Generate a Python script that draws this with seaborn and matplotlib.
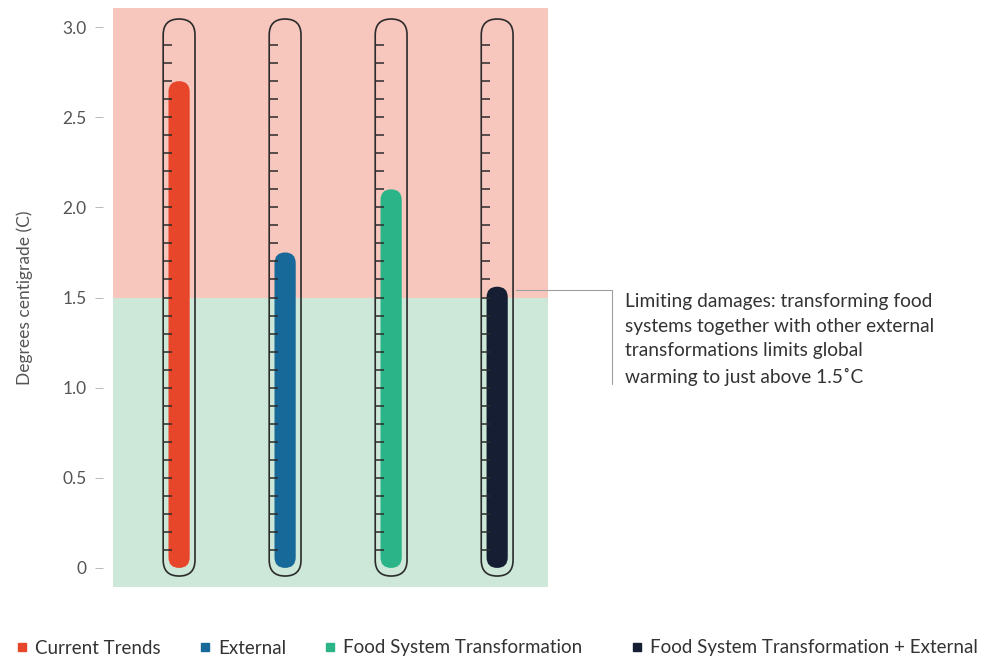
import numpy as np
import matplotlib
matplotlib.use("Agg")
import matplotlib.pyplot as plt
from matplotlib.patches import FancyBboxPatch
from matplotlib.lines import Line2D
import seaborn as sns

# Data
scenarios = ['Current Trends', 'External', 'Food System Transformation',
             'Food System Transformation + External']
warming = [2.7, 1.75, 2.1, 1.56]
colors = ['#e8462b', '#17699a', '#2bb488', '#161e33']
yticks = [0, 0.5, 1.0, 1.5, 2.0, 2.5, 3.0]
ytick_labels = ['0', '0.5', '1.0', '1.5', '2.0', '2.5', '3.0']
scale_marks = np.round(np.arange(0.1, 2.95, 0.1), 1)
threshold = 1.5
note = ('Limiting damages: transforming food\n'
        'systems together with other external\n'
        'transformations limits global\n'
        'warming to just above 1.5˚C')

sns.set_style('white')
plt.rcParams['font.family'] = ['Lato', 'DejaVu Sans']

fig = plt.figure(figsize=(9.88, 6.57), dpi=100)
ax = fig.add_axes([0.1144, 0.1065, 0.4403, 0.8813])

xlim = (-0.623, 3.48)
ylim = (-0.106, 3.106)

# mercury columns
sns.barplot(x=scenarios, y=warming, hue=scenarios, palette=colors, saturation=1,
            legend=False, width=0.2, ax=ax, zorder=2)

ax.set_xlim(*xlim)
ax.set_ylim(*ylim)

# aspect between data units so rounded ends look circular
ax_w = fig.get_figwidth() * fig.dpi * 0.4403
ax_h = fig.get_figheight() * fig.dpi * 0.8813
aspect = ((ylim[1] - ylim[0]) / ax_h) / ((xlim[1] - xlim[0]) / ax_w)

for bar in list(ax.patches):
    x0, y0 = bar.get_x(), bar.get_y()
    w, h = bar.get_width(), bar.get_height()
    fc = bar.get_facecolor()
    bar.remove()
    ax.add_patch(FancyBboxPatch((x0, y0), w, h,
                                boxstyle=f'round,pad=0,rounding_size={w / 2}',
                                mutation_aspect=aspect, fc=fc, ec='none', zorder=2))

# background zones
ax.axhspan(threshold, ylim[1], color='#f7c6bd', zorder=0, lw=0)
ax.axhspan(ylim[0], threshold, color='#cde8d8', zorder=0, lw=0)

# thermometer tubes and scale marks
tube_w = 0.3
for i in range(len(scenarios)):
    ax.add_patch(FancyBboxPatch((i - tube_w / 2, -0.045), tube_w, 3.09,
                                boxstyle=f'round,pad=0,rounding_size={tube_w / 2}',
                                mutation_aspect=aspect, fc='none', ec='#2b2b2b',
                                lw=1.2, zorder=3))
    ax.hlines(scale_marks, i - tube_w / 2, i - tube_w / 2 + 0.085,
              color='#2b2b2b', lw=1.1, zorder=4)

# axes styling
sns.despine(ax=ax, left=True, bottom=True, top=True, right=True)
ax.set_xticks([])
ax.set_xlabel('')
ax.set_yticks(yticks)
ax.set_yticklabels(ytick_labels)
ax.tick_params(axis='y', length=6, width=0.7, color='#b8b8b8', pad=6,
               labelsize=12.5, labelcolor='#555555', left=True, direction='out')
ax.spines['left'].set_position(('outward', 7))
ax.set_ylabel('Degrees centigrade (C)', fontsize=12.5, color='#555555', labelpad=21)

# annotation for the last scenario
ax.plot([3.18, 4.085], [1.54, 1.54], color='#a0a0a0', lw=0.8, clip_on=False)
ax.plot([4.085, 4.085], [1.54, 1.02], color='#a0a0a0', lw=0.8, clip_on=False)
ax.text(4.21, 1.525, note, fontsize=13.75, color='#333333', va='top', ha='left',
        linespacing=1.55, clip_on=False)

# legend: one entry per scenario, placed like the reference
legend_x = [22, 205, 330, 637]  # marker centres in pixels
for name, c, px in zip(scenarios, colors, legend_x):
    h = Line2D([0], [0], marker='s', ls='none', markersize=6,
               markerfacecolor=c, markeredgecolor=c)
    fig.legend([h], [name], loc='center left',
               bbox_to_anchor=((px - 5.6) / 988, 1 - 648 / 657),
               frameon=False, fontsize=13.5, handlelength=0.6, handletextpad=0.4,
               borderpad=0, borderaxespad=0, labelcolor='#333333')

fig.savefig('out.png', dpi=100)
